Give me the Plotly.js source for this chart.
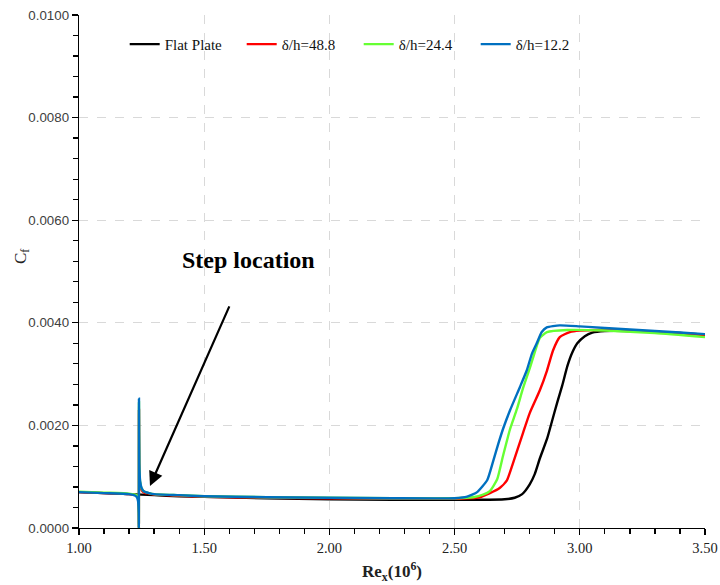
<!DOCTYPE html>
<html>
<head>
<meta charset="utf-8">
<script src="https://cdn.plot.ly/plotly-3.0.1.min.js"></script>
<style>html,body{margin:0;padding:0;background:#fff;}#chart{width:720px;height:585px;}</style>
</head>
<body>
<div id="chart"></div>
<script>
// Flat plate
const flatX = [1.00,1.10,1.20,1.30,1.40,1.50,1.75,2.00,2.25,2.50,2.60,2.70,2.74,2.77,2.80,2.82,2.84,2.87,2.89,2.91,2.93,2.95,2.97,2.99,3.02,3.05,3.10,3.20,3.30,3.40,3.50];
const flatY = [0.00070,0.00068,0.00066,0.00064,0.00062,0.00061,0.00058,0.00056,0.00055,0.00055,0.00055,0.00056,0.00059,0.00066,0.00085,0.00105,0.00135,0.00175,0.00210,0.00245,0.00278,0.00315,0.00342,0.00360,0.00374,0.00381,0.00384,0.00384,0.00382,0.00380,0.00377];

// delta/h = 48.8
const redX = [1.00,1.10,1.20,1.23,1.236,1.2385,1.239,1.2395,1.241,1.244,1.25,1.26,1.28,1.30,1.40,1.50,1.75,2.00,2.25,2.50,2.60,2.641,2.68,2.709,2.733,2.773,2.80,2.84,2.869,2.893,2.92,2.96,3.00,3.10,3.20,3.30,3.40,3.50];
const redY = [0.00070,0.00068,0.00066,0.00064,0.00060,0.00030,0.00000,0.00230,0.00110,0.00085,0.00074,0.00069,0.00067,0.00065,0.00063,0.00061,0.00059,0.00058,0.00057,0.00057,0.00060,0.00068,0.00078,0.00093,0.00126,0.00185,0.00224,0.00268,0.00307,0.00346,0.00372,0.00382,0.00385,0.00386,0.00384,0.00382,0.00379,0.00376];

// delta/h = 24.4
const greenX = [1.00,1.10,1.20,1.23,1.236,1.2385,1.239,1.2395,1.241,1.244,1.25,1.26,1.28,1.30,1.40,1.50,1.75,2.00,2.25,2.50,2.574,2.614,2.641,2.67,2.693,2.721,2.749,2.773,2.80,2.821,2.84,2.869,2.95,3.10,3.30,3.50];
const greenY = [0.00071,0.00069,0.00067,0.00064,0.00059,0.00030,0.00000,0.00245,0.00120,0.00090,0.00077,0.00071,0.00068,0.00066,0.00064,0.00062,0.00060,0.00059,0.00058,0.00058,0.00060,0.00065,0.00072,0.00095,0.00140,0.00192,0.00232,0.00272,0.00311,0.00344,0.00370,0.00382,0.00386,0.00385,0.00380,0.00372];

// delta/h = 12.2
const blueX = [1.00,1.10,1.20,1.225,1.232,1.236,1.2385,1.239,1.2395,1.241,1.244,1.25,1.26,1.28,1.30,1.40,1.50,1.75,2.00,2.25,2.50,2.55,2.59,2.63,2.655,2.675,2.694,2.721,2.761,2.788,2.809,2.828,2.848,2.868,2.92,3.00,3.10,3.20,3.30,3.40,3.50];
const blueY = [0.00070,0.00068,0.00066,0.00063,0.00059,0.00052,0.00030,0.00000,0.00252,0.00125,0.00092,0.00078,0.00071,0.00068,0.00066,0.00064,0.00062,0.00060,0.00059,0.00058,0.00058,0.00061,0.00070,0.00093,0.00132,0.00165,0.00194,0.00229,0.00275,0.00307,0.00340,0.00360,0.00382,0.00391,0.00395,0.00393,0.00390,0.00387,0.00384,0.00381,0.00378];

const seriesNames = ['Flat Plate','δ/h=48.8','δ/h=24.4','δ/h=12.2'];
const seriesColors = ['#000000','#ff0000','#66ff33','#0070c0'];
const xs = [flatX, redX, greenX, blueX];
const ys = [flatY, redY, greenY, blueY];

const traces = seriesNames.map((n,i)=>({
  x: xs[i], y: ys[i], name: n, type:'scatter', mode:'lines',
  line:{color: seriesColors[i], width:2.4, shape:'spline', smoothing:0.5}
}));

const font = '"Liberation Serif", "Times New Roman", serif';
const sans = '"Liberation Sans", Arial, sans-serif';
const layout = {
  width:720, height:585,
  margin:{l:79, r:15, t:15, b:57},
  paper_bgcolor:'#fff', plot_bgcolor:'#fff',
  font:{family:font, size:13, color:'#333'},
  showlegend:true,
  legend:{orientation:'h', x:0.073, y:0.975, xanchor:'left', yanchor:'top',
    font:{family:font, size:15, color:'#111'}, bgcolor:'rgba(0,0,0,0)', entrywidth:72, entrywidthmode:'pixels', itemwidth:30},
  xaxis:{range:[1.0,3.5], dtick:0.5, tick0:1.0, tickformat:'.2f',
    showline:true, linecolor:'#000', linewidth:1.3, mirror:false,
    ticks:'outside', ticklen:6, tickcolor:'#000', tickwidth:1.3,
    minor:{dtick:0.1, ticks:'outside', ticklen:5, tickcolor:'#000', tickwidth:1.3, showgrid:false},
    showgrid:true, gridcolor:'#d9d9d9', griddash:'dash', gridwidth:1.3, zeroline:false,
    tickfont:{family:font, size:14.5, color:'#222'},
    title:{text:'<b>Re<sub>x</sub>(10<sup>6</sup>)</b>', font:{family:font, size:17, color:'#222'}, standoff:10}},
  yaxis:{range:[0,0.01], dtick:0.002, tickformat:'.4f',
    showline:true, linecolor:'#000', linewidth:1.3,
    ticks:'outside', ticklen:6, tickcolor:'#000', tickwidth:1.3,
    minor:{dtick:0.0004, ticks:'outside', ticklen:5, tickcolor:'#000', tickwidth:1.3, showgrid:false},
    showgrid:true, gridcolor:'#d9d9d9', griddash:'dash', gridwidth:1.3, zeroline:false,
    tickfont:{family:sans, size:13.3, color:'#404040'}},
  annotations:[
    {x:-0.112, y:0.53, xref:'paper', yref:'paper', text:'C<sub>f</sub>', textangle:-90, showarrow:false,
     font:{family:font, size:17, color:'#222'}},
    {x:1.675, y:0.00522, xref:'x', yref:'y', text:'<b>Step location</b>', showarrow:false,
     font:{family:font, size:24, color:'#000'}},
    {x:1.2835, y:0.00082, xref:'x', yref:'y', ax:1.603, ay:0.00435, axref:'x', ayref:'y',
     text:'', showarrow:true, arrowhead:2, arrowsize:1.3, arrowwidth:2.2, arrowcolor:'#000'}
  ]
};
Plotly.newPlot('chart', traces, layout, {displayModeBar:false, staticPlot:true});
</script>
</body>
</html>
